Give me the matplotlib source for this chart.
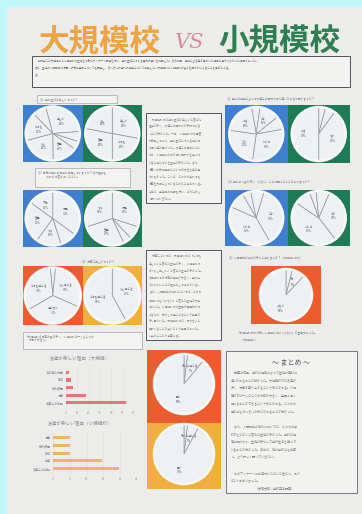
import matplotlib
matplotlib.use("Agg")
import matplotlib.pyplot as plt
from matplotlib.patches import Rectangle, Circle
import numpy as np

plt.rcParams['font.family'] = ['Noto Sans CJK JP', 'DejaVu Sans']

W, H = 362, 514

# ---------------- data ----------------
title_left = "大規模校"
title_vs = "VS"
title_right = "小規模校"

q1_large = [28, 6, 5, 15, 21, 17, 8]
q1_large_labels = ["楽しい\n28%", "", "", "普通\n15%", "少し\n21%", "とても\n17%", ""]
q1_small = [28, 22, 28, 22]
q1_small_labels = ["楽しい\n28%", "とても\n22%", "普通\n28%", "少し\n22%"]

q2_large = [5, 12, 8, 30, 25, 20]
q2_large_labels = ["", "はい\n12%", "", "いいえ\n30%", "少し\n25%", "ある\n20%"]
q2_small = [4, 6, 40, 50]
q2_small_labels = ["", "", "ない\n40%", "ある\n50%"]

q3_large = [35, 10, 15, 25, 15]
q3_large_labels = ["満足\n35%", "", "やや\n15%", "普通\n25%", "不満\n15%"]
q3_small = [30, 8, 5, 27, 30]
q3_small_labels = ["満足\n30%", "", "", "普通\n27%", "やや\n30%"]

q4_large = [5, 8, 37, 40, 10]
q4_large_labels = ["", "", "はい\n37%", "いいえ\n40%", ""]
q4_small = [4, 8, 33, 45, 10]
q4_small_labels = ["", "", "はい\n33%", "いいえ\n45%", ""]

q5_large = [3, 30, 35, 32]
q5_large_labels = ["", "少し感じる\n30%", "感じない\n35%", "とても感じる\n32%"]
q5_small = [42, 58]
q5_small_labels = ["少し感じる\n42%", "とても感じる\n58%"]

q6_large = [4, 8, 88]
q6_large_labels = ["", "多い\n8%", "少ない\n88%"]

q7_large = [2, 9, 89]
q7_large_labels = ["", "多いと感じる\n9%", "軽い\n89%"]
q7_small = [2, 6, 92]
q7_small_labels = ["", "多いと感じる\n6%", "軽い\n92%"]

bar1_title = "友達が楽しい理由（大規模）"
bar1_cats = ["その他の行事", "部活", "休み時間", "行事", "友達との会話"]
bar1_vals = [3, 4, 6, 18, 53]
bar1_ticks = [0, 10, 20, 30, 40, 50, 60]

bar2_title = "友達が楽しい理由（小規模校）"
bar2_cats = ["行事", "休み時間", "部活", "授業", "友達との会話"]
bar2_vals = [5, 5, 5, 14.5, 19.5]
bar2_ticks = [0, 5, 10, 15, 20, 25]

summary_title = "～ まとめ ～"

# ---------------- colours ----------------
BG = "#bff7fa"
PAPER = "#ecedeb"
BLUE = "#3f7fd0"
GREEN = "#1f7a56"
RED = "#ec5c2e"
YEL = "#f2ae3e"
PIEFILL = "#eef1f4"
TXT = "#858585"

fig = plt.figure(figsize=(W / 100, H / 100), dpi=100)
fig.patch.set_facecolor(BG)

base = fig.add_axes([0, 0, 1, 1])
base.set_xlim(0, W)
base.set_ylim(H, 0)
base.axis("off")


def rect(x, y, w, h, fc="none", ec="none", lw=0.6, z=1):
    base.add_patch(Rectangle((x, y), w, h, facecolor=fc, edgecolor=ec, lw=lw, zorder=z))


def txt(x, y, s, size=2.3, color=TXT, ha="left", va="top", **kw):
    base.text(x, y, s, fontsize=size, color=color, ha=ha, va=va, zorder=5, **kw)


def ax_at(x, y, w, h):
    return fig.add_axes([x / W, 1 - (y + h) / H, w / W, h / H])


# paper
rect(7, 7, W - 7, H - 7, fc=PAPER, z=0)

# title
base.text(100, 41, title_left, fontsize=22, color="#eea445", ha="center", va="center",
          fontweight="bold", zorder=5)
base.text(190, 43, title_vs, fontsize=15, color="#d88aa0", ha="center", va="center",
          fontstyle="italic", family="DejaVu Serif", zorder=5)
base.text(279, 41, title_right, fontsize=22, color="#2f7f52", ha="center", va="center",
          fontweight="bold", zorder=5)

# intro box
rect(32, 56, 318, 31, ec="#555555", lw=0.7, fc="#f2f2f0", z=2)
intro = ("　本研究では大規模校と小規模校の生徒を対象にアンケート調査を行い、学校生活に対する意識の違いを比較した。その結果、規模による差が見られた項目と見られなかった項目があった。\n"
         "また、生徒の人間関係や行事への参加意識についても調査し、それぞれの学校の特色について考察した。大規模校と小規模校の良さを明らかにすることを目的とする。\n"
         "る。")
txt(35, 59, intro, size=1.9, linespacing=2.0, color="#6e6e6e")


def caption_box(x, y, w, h, s):
    rect(x, y, w, h, ec="#a5a5a5", lw=0.5, fc="#f3f3f1", z=2)
    txt(x + 3, y + 2, s, size=2.0)


def draw_pie(cx, cy, r, vals, labels, start=90):
    a = ax_at(cx - r * 1.08, cy - r * 1.08, 2 * r * 1.08, 2 * r * 1.08)
    wedges, _ = a.pie(vals, startangle=start, counterclock=False,
                      colors=[PIEFILL] * len(vals),
                      wedgeprops=dict(edgecolor="#959ba3", linewidth=0.5))
    for w_, lab in zip(wedges, labels):
        if not lab:
            continue
        ang = np.deg2rad((w_.theta1 + w_.theta2) / 2)
        a.text(0.55 * np.cos(ang), 0.55 * np.sin(ang), lab, fontsize=2.0,
               color="#666666", ha="center", va="center")
    a.add_patch(Circle((0, 0), 1.0, fill=False, edgecolor="#f8f8f8", lw=1.8))
    a.set_xlim(-1.08, 1.08)
    a.set_ylim(-1.08, 1.08)
    a.set_aspect("equal")
    a.axis("off")


def two_panel(x, y, w, h, c1, c2, d1, l1, d2, l2, r=27, s1=90, s2=90):
    rect(x, y, w / 2, h, fc=c1, z=1)
    rect(x + w / 2, y, w / 2, h, fc=c2, z=1)
    cy = y + h / 2
    draw_pie(x + w / 4, cy, r, d1, l1, s1)
    draw_pie(x + 3 * w / 4, cy, r, d2, l2, s2)


# ---- row 1 ----
caption_box(37, 95, 80, 8, "Q1. 学校生活は楽しいですか？")
two_panel(23, 105, 119, 57, BLUE, GREEN, q1_large, q1_large_labels, q1_small, q1_small_labels,
          s1=105, s2=90)
txt(227, 96, "Q2. 学校の規模によって友達との関わり方に違いがあると思いますか？", size=2.0)
two_panel(225, 105, 125, 58, BLUE, GREEN, q2_large, q2_large_labels, q2_small, q2_small_labels,
          s1=100, s2=90)

# middle text box 1
rect(146, 113, 75, 90, ec="#555555", lw=0.7, fc="#f2f2f0", z=2)
body1 = "\n".join([
    "　大規模校では学校生活が楽しいと答えた",
    "生徒が多く、友達との関わりが多様である",
    "ことが分かった。一方、小規模校では回答",
    "が分散しており、学校生活に対する感じ方",
    "に個人差が見られた。友達との関係につい",
    "ては、小規模校の方が深い関わりを持って",
    "いると感じている生徒が多かった。また、",
    "行事への参加意識については大きな差は見",
    "られなかった。これは、どちらの学校でも",
    "行事を大切にしているためだと考えられる。",
    "今後は、学年別の比較も行い、さらに詳し",
    "く調べていきたい。",
])
txt(149, 117, body1, size=2.0, linespacing=2.1)

# ---- row 2 ----
caption_box(35, 168, 95, 19,
            "Q3. 自分の学校の規模に満足していますか？その理由も\n　　　あわせて答えてください。")
two_panel(23, 190, 119, 57, BLUE, GREEN, q3_large, q3_large_labels, q3_small, q3_small_labels,
          s1=90, s2=90)
txt(228, 179, "Q4. 学校の人数が多い（少ない）ことで困ったことはありますか？", size=2.0)
two_panel(225, 190, 125, 56, BLUE, GREEN, q4_large, q4_large_labels, q4_small, q4_small_labels,
          s1=120, s2=110)

# ---- row 3 ----
txt(82, 259, "Q5. 行事は楽しいですか？", size=2.0)
two_panel(23, 266, 119, 59, RED, YEL, q5_large, q5_large_labels, q5_small, q5_small_labels,
          r=28, s1=95, s2=90)
caption_box(23, 332, 119, 17, "※大規模校は行事の数が多く、小規模校は一人ひとりの\n　役割が大きい。")

# middle text box 2
rect(146, 250, 75, 90, ec="#555555", lw=0.7, fc="#f2f2f0", z=2)
body2 = "\n".join([
    "　行事については、大規模校では「とても",
    "楽しい」と答えた生徒が多く、小規模校で",
    "は「少し楽しい」と答えた生徒が多かった。",
    "大規模校では行事の規模が大きく、盛り上",
    "がりやすいことが理由として考えられる。",
    "また、人間関係の悩みについては、どちら",
    "の学校でも「少ない」と答えた生徒が大半",
    "であった。小規模校では全員が顔見知りで",
    "あるため、安心して過ごせるという意見が",
    "多く見られた。大規模校では、様々な人と",
    "関われることが良いという意見があった。",
    "以上のことから考察する。",
])
txt(149, 254, body2, size=2.0, linespacing=2.1)

txt(229, 255, "Q6. 人間関係の悩みは多いと感じますか？（大規模校のみ）", size=2.0)
rect(251, 266, 70, 58, fc=RED, z=1)
draw_pie(286, 295, 26, q6_large, q6_large_labels, 90)
txt(238, 330, "※大規模校のみ対象。小規模校では「少ない」が全員であった。\n　（大規模校）", size=2.0,
    linespacing=2.2)

# ---- bottom middle ----
rect(147, 350, 74, 73, fc=RED, z=1)
rect(147, 423, 74, 66, fc=YEL, z=1)
draw_pie(184, 384, 30, q7_large, q7_large_labels, 90)
draw_pie(184, 454, 30, q7_small, q7_small_labels, 90)


# ---- bar charts ----
def bar_chart(x, y, w, h, title, cats, vals, ticks, color, tx, ty):
    a = ax_at(x, y, w, h)
    pos = list(range(len(cats)))[::-1]
    a.barh(pos, vals, height=0.4, color=color)
    a.set_yticks(pos)
    a.set_yticklabels(cats, fontsize=2.2, color="#888888")
    a.set_xticks(ticks)
    a.set_xticklabels([str(t) for t in ticks], fontsize=2.2, color="#999999")
    a.set_xlim(ticks[0], ticks[-1])
    a.set_ylim(-0.8, len(cats) - 0.3)
    a.set_facecolor("none")
    for s in a.spines.values():
        s.set_visible(False)
    a.tick_params(length=0, pad=1.5)
    a.grid(axis="x", color="#dedede", lw=0.4)
    a.set_axisbelow(True)
    txt(tx, ty, title, size=3.3, color="#939393", ha="center", va="center")


bar_chart(66, 367, 68, 42, bar1_title, bar1_cats, bar1_vals, bar1_ticks, "#e1787a", 80, 359)
bar_chart(53, 432, 84, 43, bar2_title, bar2_cats, bar2_vals, bar2_ticks, "#f1b26c", 80, 424)

# ---- summary box ----
rect(226, 351, 131, 142, ec="#666666", lw=0.6, fc="#f2f2f0", z=2)
txt(291, 362, summary_title, size=5.0, color="#555555", ha="center", va="center")
summary = "\n".join([
    "　調査の結果、学校の規模によって生徒の意識に",
    "違いがあることが分かった。大規模校では友達が",
    "多く、行事が盛り上がるという良さがある。小規",
    "模校では一人ひとりの役割が大きく、全員と深く",
    "関わることができるという良さがある。どちらの",
    "学校にもそれぞれの良さがあることが分かった。",
    "",
    "　また、人間関係の悩みについては、どちらの学",
    "校でも少ないと答えた生徒が多かった。学校の規",
    "模に関わらず、生徒は安心して学校生活を送って",
    "いることが分かった。今後は、他の学校とも比較",
    "し、より詳しく調べていきたい。",
    "",
    "　このアンケートにご協力いただいた皆さん、あり",
    "がとうございました。",
    "　　　　　　　　（参考文献：学校基本調査）",
])
txt(231, 370, summary, size=2.2, linespacing=2.25)

fig.savefig("out.png", dpi=100, facecolor=BG)
